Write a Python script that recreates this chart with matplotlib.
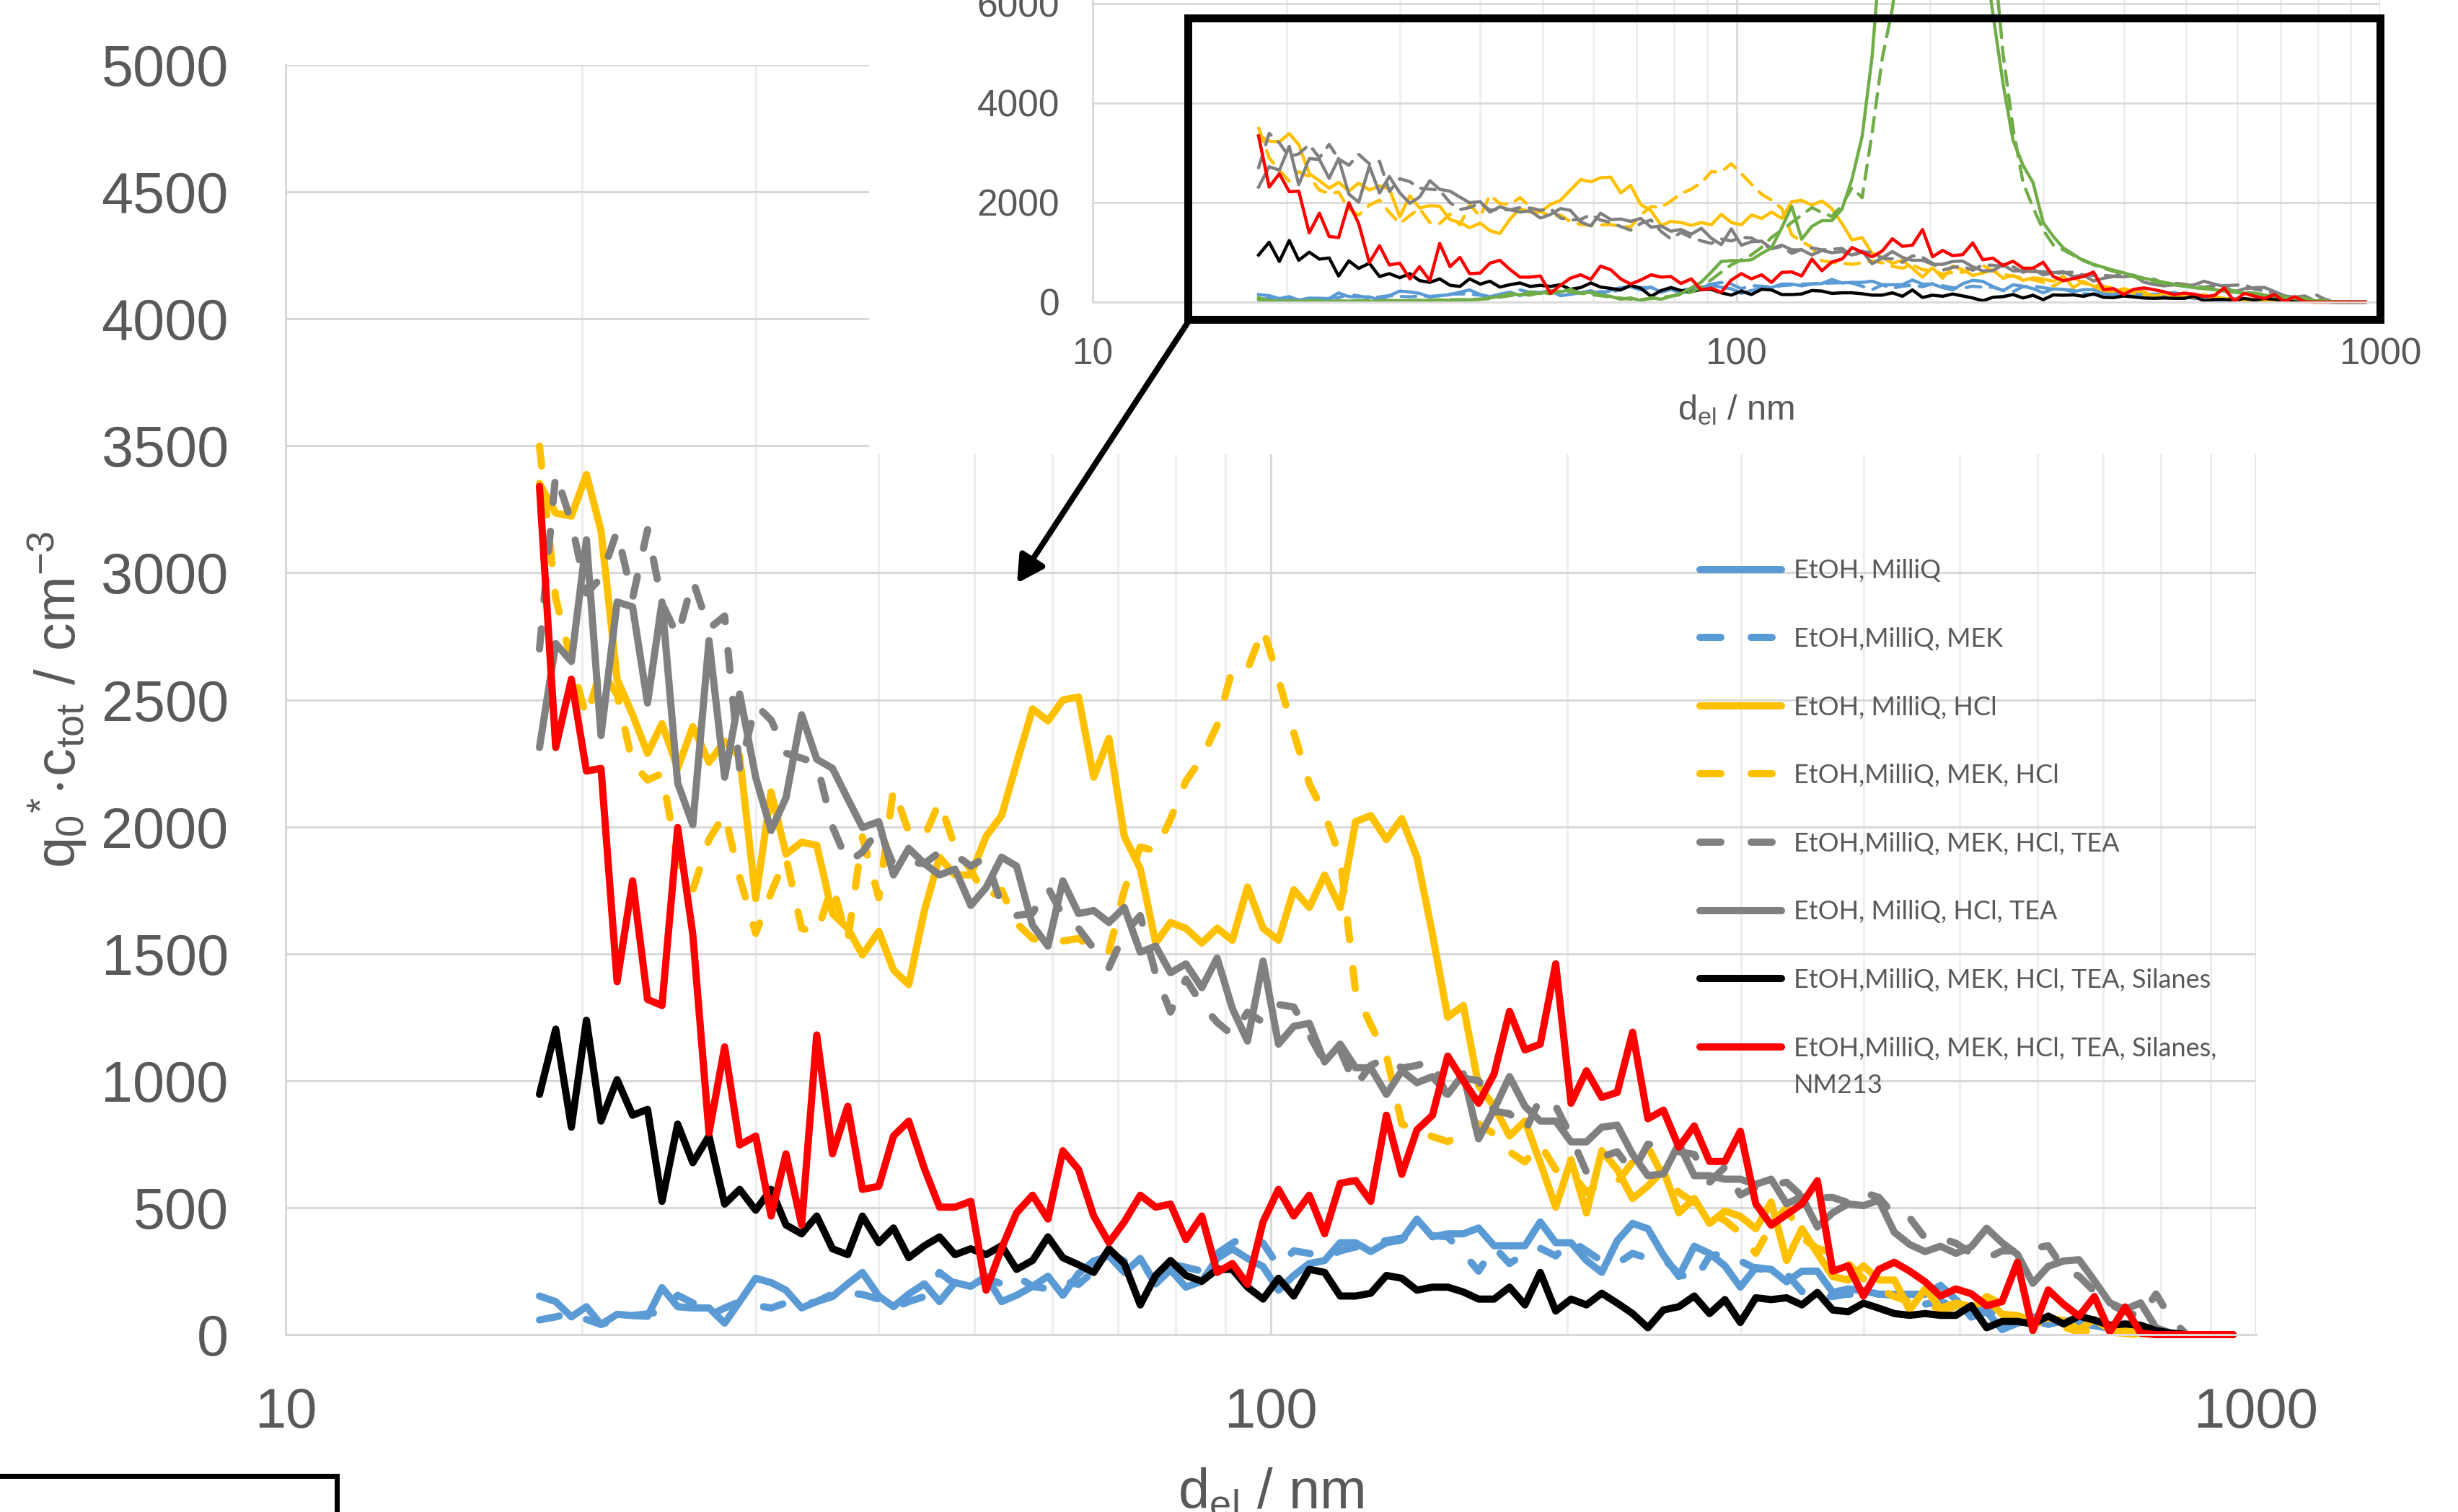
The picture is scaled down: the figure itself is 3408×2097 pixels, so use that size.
"""SMPS number size distributions: zoomed main view plus full-range inset."""
import matplotlib
matplotlib.use("Agg")
import matplotlib.pyplot as plt
from matplotlib.lines import Line2D
from matplotlib.patches import Rectangle, FancyArrowPatch
from matplotlib.ticker import FixedLocator, NullFormatter, FuncFormatter

plt.rcParams['font.family'] = ['Liberation Sans', 'DejaVu Sans']
plt.rcParams['mathtext.fontset'] = 'custom'
plt.rcParams['mathtext.rm'] = 'Liberation Sans'

# SMPS channel midpoints, 64 channels per decade (nm)
diameter = [
    18.1, 18.8, 19.5, 20.2, 20.9, 21.7, 22.5, 23.3, 24.1, 25.0,
    25.9, 26.9, 27.9, 28.9, 30.0, 31.1, 32.2, 33.4, 34.6, 35.9,
    37.2, 38.5, 40.0, 41.4, 42.9, 44.5, 46.1, 47.8, 49.6, 51.4,
    53.3, 55.2, 57.3, 59.4, 61.5, 63.8, 66.1, 68.5, 71.0, 73.7,
    76.4, 79.1, 82.0, 85.1, 88.2, 91.4, 94.7, 98.2, 101.8, 105.5,
    109.4, 113.4, 117.6, 121.9, 126.3, 131.0, 135.8, 140.7, 145.9, 151.2,
    156.8, 162.5, 168.5, 174.7, 181.1, 187.7, 194.6, 201.7, 209.1, 216.7,
    224.7, 232.9, 241.4, 250.3, 259.5, 269.0, 278.8, 289.0, 299.6, 310.6,
    322.0, 333.8, 346.0, 358.7, 371.8, 385.4, 399.5, 414.2, 429.4, 445.1,
    461.4, 478.3, 495.8, 514.0, 532.8, 552.3, 572.5, 593.5, 615.3, 637.8,
    661.2, 685.4, 710.5, 736.5, 763.5, 791.5, 820.5, 850.5, 881.7, 914.0,
    947.5,
]

etoh_milliq = [
    152, 130, 70, 110, 40, 80, 75, 72, 185, 110, 105, 105, 45, 130, 222, 205, 175, 105, 130, 150, 200, 245, 152, 110,
    160, 200, 130, 205, 190, 230, 130, 155, 190, 230, 155, 240, 290, 310, 245, 300, 200, 255, 187, 210, 300, 338, 300,
    268, 175, 233, 280, 292, 362, 362, 327, 362, 373, 455, 385, 397, 397, 420, 350, 350, 350, 444, 362, 362, 292, 245, 370,
    438, 417, 313, 229, 348, 320, 271, 187, 264, 257, 208, 250, 250, 166, 180, 173, 159, 159, 159, 159, 194, 138, 69,
    90, 20, 45, 60, 40, 55, 45, 35, 25, 20, 15, 10, 5, 0, 0, 0, 0,
]
etoh_milliq_mek = [
    58, 70, 85, 60, 40, 60, 75, 82, 90, 155, 125, 75, 105, 130, 115, 105, 125, 115, 130, 160, 165, 158, 140, 105,
    130, 150, 245, 198, 187, 222, 200, 230, 190, 180, 210, 198, 250, 320, 290, 295, 200, 280, 265, 250, 320, 360, 395,
    360, 270, 330, 320, 300, 330, 345, 360, 370, 380, 385, 390, 385, 320, 250, 345, 280, 320, 340, 310, 370, 330, 290, 280,
    320, 300, 300, 240, 210, 310, 320, 290, 260, 255, 240, 170, 150, 150, 160, 150, 160, 155, 150, 120, 130, 110, 90,
    100, 60, 50, 70, 45, 40, 50, 40, 30, 20, 10, 5, 0, 0, 0, 0, 0,
]
etoh_milliq_hcl = [
    3352, 3235, 3223, 3387, 3165, 2581, 2441, 2289, 2406, 2230, 2394, 2254, 2336, 2277, 1717, 2137, 1892, 1939, 1927, 1658, 1600, 1495, 1588, 1436,
    1378, 1670, 1880, 1810, 1810, 1962, 2044, 2250, 2464, 2417, 2499, 2511, 2195, 2348, 1962, 1835, 1542, 1623, 1600, 1542, 1600, 1553, 1763,
    1600, 1553, 1752, 1682, 1810, 1682, 2020, 2044, 1950, 2032, 1880, 1577, 1250, 1296, 981, 899, 782, 841, 677, 502, 689, 479, 724, 650,
    536, 585, 647, 480, 536, 438, 487, 466, 417, 522, 292, 417, 320, 229, 215, 271, 215, 215, 97, 180, 104, 124, 110,
    140, 80, 75, 55, 65, 55, 20, 60, 20, 15, 5, 0, 0, 0, 0, 0, 0,
]
etoh_milliq_mek_hcl = [
    3499, 2900, 2650, 2430, 2620, 2520, 2250, 2184, 2210, 1870, 1750, 1950, 2050, 1800, 1580, 1740, 1880, 1600, 1580, 1770, 1550, 1960, 1720, 2150,
    1980, 1960, 2100, 1920, 1830, 1720, 1750, 1620, 1560, 1545, 1550, 1560, 1520, 1510, 1750, 1920, 1905, 2030, 2180, 2270, 2400, 2620, 2620,
    2780, 2580, 2370, 2170, 2050, 1880, 1350, 1220, 1100, 830, 800, 780, 760, 790, 830, 790, 720, 680, 750, 650, 640, 560, 600, 600,
    680, 740, 620, 560, 520, 480, 450, 400, 320, 430, 500, 380, 340, 320, 280, 220, 180, 150, 130, 120, 100, 110, 90,
    150, 120, 70, 50, 40, 30, 10, 20, 10, 5, 0, 0, 0, 0, 0, 0, 0,
]
etoh_milliq_mek_hcl_tea = [
    2700, 3390, 3200, 2920, 2980, 3165, 2900, 3170, 2880, 2750, 2970, 2780, 2830, 2225, 2480, 2420, 2290, 2270, 2250, 2000, 1860, 1900, 1990, 1850,
    1860, 1855, 1900, 1890, 1845, 1880, 1690, 1650, 1660, 1760, 1650, 1600, 1520, 1445, 1580, 1650, 1420, 1270, 1400, 1300, 1230, 1180, 1270,
    1230, 1300, 1290, 1180, 1070, 1120, 980, 1060, 1090, 1050, 1060, 1080, 930, 1010, 1000, 880, 870, 800, 930, 900, 780, 640, 700, 720,
    640, 750, 740, 720, 710, 600, 660, 550, 580, 590, 600, 545, 540, 540, 520, 560, 540, 470, 460, 380, 380, 360, 320,
    300, 330, 330, 340, 350, 260, 230, 170, 120, 90, 70, 160, 60, 0, 0, 0, 0,
]
etoh_milliq_hcl_tea = [
    2312, 2721, 2651, 3130, 2359, 2885, 2866, 2487, 2885, 2172, 2008, 2733, 2195, 2523, 2195, 1985, 2114, 2441, 2266, 2230, 2110, 1997, 2020, 1810,
    1915, 1855, 1810, 1833, 1690, 1760, 1880, 1845, 1612, 1530, 1787, 1658, 1670, 1623, 1682, 1506, 1530, 1425, 1460, 1366, 1483, 1284, 1156,
    1471, 1144, 1214, 1226, 1074, 1144, 1051, 1051, 946, 1039, 992, 1016, 946, 1027, 771, 887, 1016, 899, 841, 841, 759, 759, 817, 825,
    710, 626, 633, 752, 626, 626, 612, 612, 592, 612, 515, 543, 424, 480, 515, 508, 529, 403, 355, 327, 348, 320, 346,
    419, 362, 316, 202, 269, 290, 295, 212, 125, 99, 125, 27, 5, 0, 0, 0, 0,
]
silanes = [
    946, 1203, 817, 1238, 841, 1004, 864, 887, 525, 829, 677, 782, 514, 572, 490, 572, 432, 397, 467, 338, 315, 467, 362, 420,
    303, 350, 385, 315, 338, 315, 350, 257, 292, 385, 303, 275, 245, 338, 280, 117, 233, 292, 233, 210, 257, 257, 187,
    140, 222, 152, 257, 245, 152, 152, 163, 233, 222, 175, 187, 187, 168, 140, 140, 187, 117, 245, 93, 140, 117, 163, 124,
    83, 27, 97, 110, 152, 83, 138, 48, 145, 138, 145, 117, 166, 97, 90, 124, 104, 83, 76, 83, 76, 76, 114,
    27, 52, 52, 42, 73, 42, 73, 57, 37, 42, 37, 16, 6, 0, 0, 0, 0,
]
silanes_nm213 = [
    3340, 2312, 2581, 2219, 2230, 1390, 1787, 1320, 1296, 1997, 1576, 794, 1133, 747, 782, 467, 712, 432, 1180, 712, 899, 572, 584, 782,
    841, 654, 502, 502, 525, 175, 340, 480, 549, 455, 724, 650, 467, 362, 444, 549, 502, 514, 374, 467, 245, 280, 198,
    444, 572, 467, 549, 397, 596, 607, 525, 864, 631, 806, 864, 1097, 1000, 911, 1027, 1273, 1121, 1144, 1460, 911, 1039, 934, 954,
    1191, 850, 884, 738, 822, 682, 682, 801, 515, 431, 473, 515, 606, 250, 271, 152, 257, 285, 250, 208, 152, 180, 161,
    114, 130, 285, 16, 176, 119, 73, 150, 11, 109, 6, 0, 0, 0, 0, 0, 0,
]
# green curves only visible in the inset (peak runs off the top)
nm213_a = [
    86, 30, 20, 25, 15, 30, 20, 10, 25, 20, 30, 15, 20, 25, 30, 20, 35, 30, 40, 35, 50, 45,
    57, 86, 115, 172, 144, 201, 172, 230, 201, 259, 172, 201, 144, 115, 57, 86, 29, 86, 57, 115, 172,
    287, 402, 603, 816, 833, 833, 850, 977, 1092, 1494, 1925, 1264, 1523, 1638, 1638, 1868, 2471, 3333, 4942,
    7500, 9500, 11500, 13000, 14000, 14500, 14000, 13000, 11000, 9000, 7200,
    5800, 4400, 3250, 2750, 2400, 1600, 1320, 1090, 960, 830, 760, 700, 640, 590, 530, 480, 440, 400, 360, 320,
    290, 270, 250, 220, 200, 180, 160, 140, 115, 90, 70, 45, 29, 15, 0, 0, 0, 0,
]
nm213_b = [
    40, 20, 30, 15, 25, 20, 30, 25, 15, 20, 25, 30, 20, 35, 25, 30, 40, 35, 45, 50, 40, 55,
    60, 70, 100, 130, 160, 140, 190, 170, 220, 200, 180, 150, 130, 100, 80, 60, 50, 70, 90, 120, 150,
    200, 300, 450, 600, 750, 850, 950, 1100, 1300, 1450, 1600, 1750, 1900, 1800, 1720, 1950, 2300, 2100, 3400, 4900,
    5900, 7500, 9500, 11500, 13000, 14000, 14200, 13500, 12000, 10000, 7200,
    5000, 3500, 2400, 1900, 1450, 1150, 1050, 940, 850, 750, 680, 620, 560, 510, 460, 410, 380, 350, 330, 310,
    290, 270, 250, 230, 200, 180, 150, 130, 110, 90, 70, 55, 30, 0, 0, 0, 0,
]

legend_labels = [
    'EtOH, MilliQ',
    'EtOH,MilliQ, MEK',
    'EtOH, MilliQ, HCl',
    'EtOH,MilliQ, MEK, HCl',
    'EtOH,MilliQ, MEK, HCl, TEA',
    'EtOH, MilliQ, HCl, TEA',
    'EtOH,MilliQ, MEK, HCl, TEA, Silanes',
    'EtOH,MilliQ, MEK, HCl, TEA, Silanes,\nNM213',
]

BLUE, YELLOW, GRAY, GREEN = '#5B9BD5', '#FFC000', '#808080', '#70AD47'
TEXT, GRID, MINOR = '#595959', '#D9D9D9', '#EEEEEE'

series = [
    (etoh_milliq, BLUE, False, legend_labels[0]),
    (etoh_milliq_mek, BLUE, True, legend_labels[1]),
    (etoh_milliq_hcl, YELLOW, False, legend_labels[2]),
    (etoh_milliq_mek_hcl, YELLOW, True, legend_labels[3]),
    (etoh_milliq_mek_hcl_tea, GRAY, True, legend_labels[4]),
    (etoh_milliq_hcl_tea, GRAY, False, legend_labels[5]),
    (silanes, 'black', False, legend_labels[6]),
    (silanes_nm213, '#FF0000', False, legend_labels[7]),
]

W, H = 3408, 2097
fig = plt.figure(figsize=(W / 100, H / 100), dpi=100)


def fx(px):
    return px / W


def fy(py):
    return 1 - py / H


def style_log_axis(ax, lw):
    ax.set_xscale('log')
    ax.set_xlim(10, 1000)
    ax.xaxis.set_major_locator(FixedLocator([10, 100, 1000]))
    ax.xaxis.set_major_formatter(FuncFormatter(lambda v, _: f'{v:g}'))
    ax.xaxis.set_minor_locator(FixedLocator([20, 30, 40, 50, 60, 70, 80, 90,
                                             200, 300, 400, 500, 600, 700, 800, 900]))
    ax.xaxis.set_minor_formatter(NullFormatter())
    ax.grid(True, which='major', color=GRID, lw=lw)
    ax.grid(True, which='minor', axis='x', color=MINOR, lw=lw)
    ax.set_axisbelow(True)
    for side in ['top', 'right']:
        ax.spines[side].set_visible(False)
    for side in ['left', 'bottom']:
        ax.spines[side].set_color(GRID)
        ax.spines[side].set_linewidth(lw)
    ax.tick_params(which='both', length=0, labelcolor=TEXT)


# main (zoomed) chart
ax = fig.add_axes([fx(396), fy(1851), fx(3128) - fx(396), (1851 - 90) / H])
for values, color, dashed, label in series:
    line, = ax.plot(diameter, values, color=color, lw=7.2, clip_on=False,
                    solid_joinstyle='round', solid_capstyle='round',
                    dash_joinstyle='round', dash_capstyle='round')
    if dashed:
        line.set_dashes([2.8, 4.0])
style_log_axis(ax, 2.2)
ax.set_ylim(0, 5000)
ax.set_yticks(range(0, 5001, 500))
ax.tick_params(axis='y', labelsize=57, pad=57)
ax.tick_params(axis='x', labelsize=56, pad=52)
ax.set_ylabel(r'$\mathregular{q_{0}{}^{*}\!\cdot\! c_{tot}\ /\ cm^{-3}}$', fontsize=56, color=TEXT)
ax.yaxis.set_label_coords(-0.1, 0.5)
ax.set_xlabel(r'$\mathregular{d_{el}}$ / nm', fontsize=56, color=TEXT)
ax.xaxis.set_label_coords(0.5, -0.104)

# white background of the pasted full-range chart
fig.add_artist(Rectangle((fx(1205), fy(630)), 1 - fx(1205), 630 / H, transform=fig.transFigure,
                         facecolor='white', edgecolor='none', zorder=1))

# full-range inset
axi = fig.add_axes([fx(1515), fy(419), fx(3300) - fx(1515), 419 / H], zorder=2)
axi.set_facecolor('none')
inset_series = series[:7] + [(nm213_a, GREEN, False, None), (nm213_b, GREEN, True, None), series[7]]
for values, color, dashed, label in inset_series:
    line, = axi.plot(diameter, values, color=color, lw=3.2, clip_on=False,
                     solid_joinstyle='round', dash_capstyle='round')
    if dashed:
        line.set_dashes([4.5, 3.0])
style_log_axis(axi, 2.0)
axi.set_ylim(0, 6072)
axi.set_yticks([0, 2000, 4000, 6000])
axi.tick_params(axis='y', labelsize=37, pad=33)
axi.tick_params(axis='x', labelsize=37, pad=35)
axi.set_xlabel(r'$\mathregular{d_{el}}$ / nm', fontsize=35, color=TEXT)
axi.xaxis.set_label_coords(0.5, (419 - 569) / 419)
axi.xaxis.label.set_va('center')

# zoom frame, pointer arrow and the cut-off box at bottom left
fig.add_artist(Rectangle((fx(1647), fy(443)), fx(3300) - fx(1647), (443 - 25) / H,
                         transform=fig.transFigure, fill=False, edgecolor='black',
                         lw=7.9, joinstyle='miter', zorder=5))
fig.add_artist(FancyArrowPatch((fx(1647), fy(447)), (fx(1410), fy(809)), transform=fig.transFigure,
                               arrowstyle='-|>,head_length=1.1,head_width=0.6', mutation_scale=20,
                               lw=5.8, color='black', shrinkA=0, shrinkB=0, zorder=5))
fig.add_artist(Rectangle((fx(-30), fy(2140)), fx(467) + 30 / W, (2140 - 2047) / H,
                         transform=fig.transFigure, fill=False, edgecolor='black', lw=5, zorder=5))

# legend, drawn entry by entry (first text line aligned with its handle)
for k, (values, color, dashed, label) in enumerate(series):
    y = 789.5 + 94.6 * k
    handle = Line2D([fx(2357), fx(2470)], [fy(y), fy(y)], transform=fig.transFigure,
                    color=color, lw=7.2, solid_capstyle='round', dash_capstyle='round')
    if dashed:
        handle.set_dashes([2.9, 4.2])
    fig.add_artist(handle)
    for j, part in enumerate(label.split('\n')):
        fig.text(fx(2487), fy(y + 13 + 51 * j), part, fontsize=26, color=TEXT,
                 family=['Lato', 'DejaVu Sans'], va='baseline', ha='left')

fig.savefig('out.png', dpi=100)
